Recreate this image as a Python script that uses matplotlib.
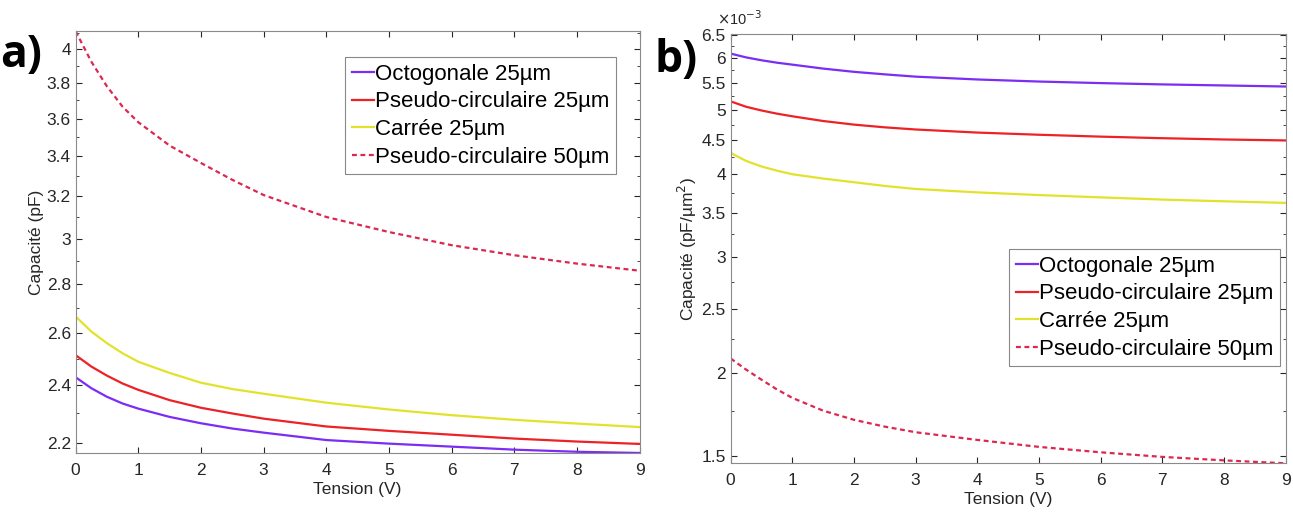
import numpy as np
import matplotlib
matplotlib.use("Agg")
import matplotlib.pyplot as plt
from matplotlib.ticker import FixedLocator, FuncFormatter, NullFormatter

plt.rcParams['font.family'] = ['Liberation Sans', 'DejaVu Sans']

# tension (V)
tension = [0, 0.25, 0.5, 0.75, 1, 1.5, 2, 2.5, 3, 4, 5, 6, 7, 8, 9]

# a) capacite (pF)
cap_octo25 = [2.43, 2.39, 2.359, 2.335, 2.317, 2.288, 2.266, 2.248, 2.234, 2.209, 2.197, 2.187, 2.177, 2.170, 2.166]
cap_pseudo25 = [2.513, 2.47, 2.436, 2.407, 2.384, 2.347, 2.32, 2.30, 2.282, 2.255, 2.24, 2.227, 2.214, 2.204, 2.196]
cap_carree25 = [2.665, 2.605, 2.559, 2.52, 2.488, 2.446, 2.41, 2.387, 2.37, 2.338, 2.314, 2.294, 2.278, 2.265, 2.253]
cap_pseudo50 = [4.11, 3.925, 3.78, 3.665, 3.58, 3.455, 3.365, 3.28, 3.205, 3.10, 3.03, 2.97, 2.925, 2.888, 2.857]

# b) capacite surfacique (pF/um^2)
dens_octo25 = np.array([6.09, 6.01, 5.95, 5.90, 5.86, 5.78, 5.715, 5.665, 5.62, 5.565, 5.525, 5.495, 5.47, 5.45, 5.43]) * 1e-3
dens_pseudo25 = np.array([5.156, 5.06, 4.995, 4.94, 4.895, 4.815, 4.755, 4.71, 4.675, 4.625, 4.59, 4.56, 4.535, 4.515, 4.50]) * 1e-3
dens_carree25 = np.array([4.308, 4.19, 4.11, 4.05, 4.00, 3.94, 3.89, 3.84, 3.80, 3.755, 3.72, 3.69, 3.662, 3.64, 3.62]) * 1e-3
dens_pseudo50 = np.array([2.105, 2.025, 1.955, 1.89, 1.835, 1.755, 1.70, 1.66, 1.628, 1.585, 1.547, 1.518, 1.494, 1.476, 1.461]) * 1e-3

labels = ['Octogonale 25µm', 'Pseudo-circulaire 25µm', 'Carrée 25µm', 'Pseudo-circulaire 50µm']
colors = ['#7b2cf5', '#ec2226', '#e2e22c', '#dc2850']
styles = ['-', '-', '-', (0, (2.2, 1.6))]

left_ticks = [2.2, 2.4, 2.6, 2.8, 3, 3.2, 3.4, 3.6, 3.8, 4]
right_ticks = [1.5e-3, 2e-3, 2.5e-3, 3e-3, 3.5e-3, 4e-3, 4.5e-3, 5e-3, 5.5e-3, 6e-3, 6.5e-3]

fig = plt.figure(figsize=(12.93, 5.13), dpi=100)
ax1 = fig.add_axes([0.0585, 0.1164, 0.4361, 0.8232])
ax2 = fig.add_axes([0.5651, 0.0969, 0.4291, 0.8368])

grey = '#262626'
for ax in (ax1, ax2):
    ax.set_yscale('log')
    ax.set_xlim(0, 9)
    ax.set_xticks(range(10))
    ax.tick_params(which='both', direction='in', top=True, right=True,
                   labelsize=12.5, colors=grey, length=4)
    ax.tick_params(axis='x', pad=7)
    ax.tick_params(which='minor', length=2)
    for s in ax.spines.values():
        s.set_color('#8a8a8a')
        s.set_linewidth(0.8)
    ax.set_xlabel('Tension (V)', fontsize=12.5, color=grey, labelpad=3)

ys1 = [cap_octo25, cap_pseudo25, cap_carree25, cap_pseudo50]
ys2 = [dens_octo25, dens_pseudo25, dens_carree25, dens_pseudo50]
for y, c, ls, lab in zip(ys1, colors, styles, labels):
    ax1.plot(tension, y, color=c, linestyle=ls, lw=1.6, label=lab)
for y, c, ls, lab in zip(ys2, colors, styles, labels):
    ax2.plot(tension, y, color=c, linestyle=ls, lw=1.6, label=lab)

ax1.set_ylim(2.165, 4.112)
ax1.yaxis.set_major_locator(FixedLocator(left_ticks))
ax1.yaxis.set_major_formatter(FuncFormatter(lambda v, p: '%g' % round(v, 2)))
ax1.yaxis.set_minor_locator(FixedLocator(np.arange(2.2, 4.11, 0.1)))
ax1.yaxis.set_minor_formatter(NullFormatter())
ax1.set_ylabel('Capacité (pF)', fontsize=12.5, color=grey, labelpad=2)

ax2.set_ylim(1.461e-3, 6.52e-3)
ax2.yaxis.set_major_locator(FixedLocator(right_ticks))
ax2.yaxis.set_major_formatter(FuncFormatter(lambda v, p: '%g' % round(v * 1e3, 2)))
ax2.yaxis.set_minor_locator(FixedLocator(np.arange(1.5e-3, 6.5e-3, 0.25e-3)))
ax2.yaxis.set_minor_formatter(NullFormatter())
ax2.set_ylabel('Capacité (pF/µm$^2$)', fontsize=12.5, color=grey, labelpad=2)
ax2.text(-0.025, 1.015, r'$\times$10$^{-3}$', transform=ax2.transAxes, fontsize=10.5,
         color=grey, ha='left', va='bottom')

leg_kw = dict(fontsize=16, frameon=True, fancybox=False, handlelength=1.0,
              handletextpad=0.05, borderpad=0.3, labelspacing=0.3,
              borderaxespad=0, loc='upper left')
l1 = ax1.legend(bbox_to_anchor=(345 / 1293, 1 - 57 / 513),
                bbox_transform=fig.transFigure, **leg_kw)
l2 = ax2.legend(bbox_to_anchor=(1009 / 1293, 1 - 249 / 513),
                bbox_transform=fig.transFigure, **leg_kw)
for l in (l1, l2):
    l.get_frame().set_edgecolor('#6a6a6a')
    l.get_frame().set_linewidth(0.8)

fig.text(0.0, 0.87, 'a)', fontsize=32, fontweight='bold', family='Open Sans')
fig.text(0.506, 0.86, 'b)', fontsize=32, fontweight='bold', family='Open Sans')

fig.savefig('out.png', dpi=100)
